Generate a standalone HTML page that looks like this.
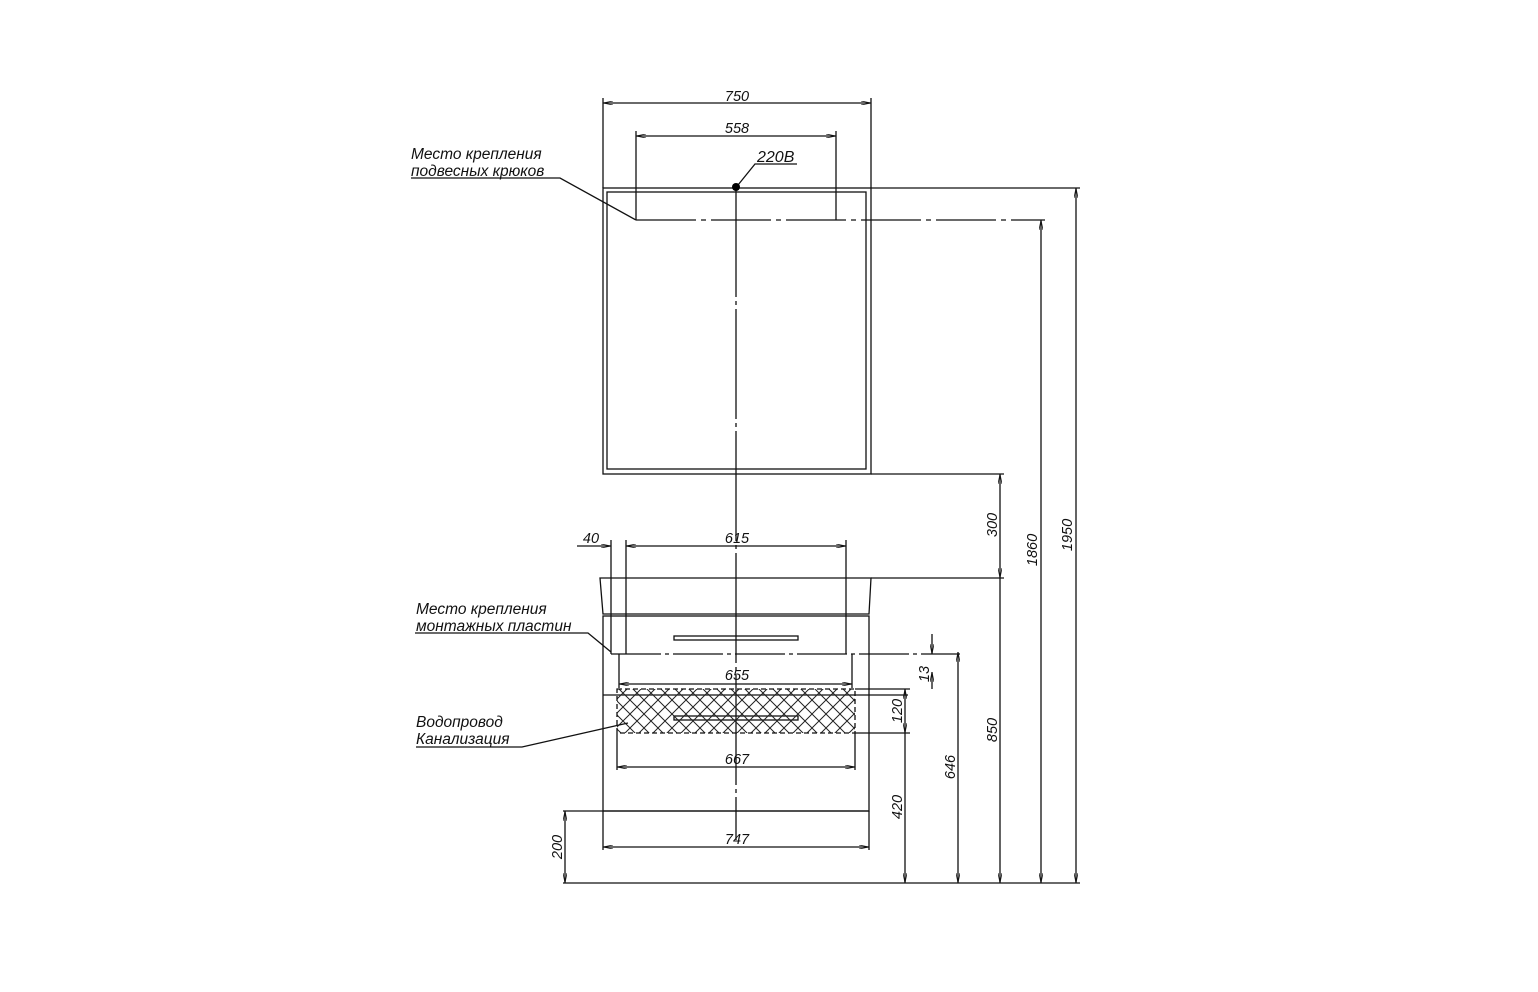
<!DOCTYPE html>
<html><head><meta charset="utf-8"><style>body{margin:0;background:#fff}svg{display:block}</style></head><body>
<svg width="1538" height="992" viewBox="0 0 1538 992" xmlns="http://www.w3.org/2000/svg" font-family="Liberation Sans, sans-serif" font-style="italic" font-size="14.5">
<defs>
<pattern id="h" width="14" height="14" patternUnits="userSpaceOnUse"><path d="M0 0L14 14M14 0L0 14" stroke="#222" stroke-width="1"/></pattern>
<marker id="a" viewBox="0 0 10 4" refX="10" refY="2" markerWidth="10" markerHeight="4" orient="auto-start-reverse" markerUnits="userSpaceOnUse"><path d="M0 0L10 2L0 4" fill="none" stroke="#111" stroke-width="0.8"/></marker>
</defs>
<g stroke="#111" stroke-width="1.3" fill="none">
<rect x="603" y="188" width="268" height="286"/>
<rect x="607" y="192" width="259" height="277"/>
<line x1="736" y1="187" x2="736" y2="840" stroke-dasharray="110 4 4 4"/>
<line x1="636" y1="220" x2="1045" y2="220" stroke-dasharray="60 5 5 5"/>
<line x1="603" y1="98" x2="603" y2="188"/><line x1="871" y1="98" x2="871" y2="188"/>
<line x1="603" y1="103" x2="871" y2="103" marker-start="url(#a)" marker-end="url(#a)"/>
<line x1="636" y1="131" x2="636" y2="220"/><line x1="836" y1="131" x2="836" y2="220"/>
<line x1="636" y1="136" x2="836" y2="136" marker-start="url(#a)" marker-end="url(#a)"/>
<polyline points="797,164 755,164 738,185"/>
<line x1="871" y1="188" x2="1080" y2="188"/>
<line x1="871" y1="474" x2="1004" y2="474"/>
<line x1="871" y1="578" x2="1004" y2="578"/>
<line x1="563" y1="883" x2="1080" y2="883"/>
<line x1="1076" y1="188" x2="1076" y2="883" marker-start="url(#a)" marker-end="url(#a)"/>
<line x1="1041" y1="220" x2="1041" y2="883" marker-start="url(#a)" marker-end="url(#a)"/>
<line x1="1000" y1="474" x2="1000" y2="578" marker-start="url(#a)" marker-end="url(#a)"/>
<line x1="1000" y1="578" x2="1000" y2="883" marker-end="url(#a)"/>
<line x1="958" y1="652" x2="958" y2="883" marker-start="url(#a)" marker-end="url(#a)"/>
<line x1="905" y1="689" x2="905" y2="733" marker-start="url(#a)" marker-end="url(#a)"/>
<line x1="905" y1="733" x2="905" y2="883" marker-end="url(#a)"/>
<line x1="932" y1="634" x2="932" y2="654" marker-end="url(#a)"/>
<line x1="932" y1="672" x2="932" y2="689" marker-start="url(#a)"/>
<line x1="565" y1="811" x2="565" y2="883" marker-start="url(#a)" marker-end="url(#a)"/>
<polygon points="600,578 871,578 869,614 603,614"/>
<rect x="603" y="616" width="266" height="195"/>
<line x1="563" y1="811" x2="869" y2="811"/>
<line x1="603" y1="811" x2="603" y2="850"/><line x1="869" y1="811" x2="869" y2="850"/>
<line x1="603" y1="847" x2="869" y2="847" marker-start="url(#a)" marker-end="url(#a)"/>
<rect x="674" y="636" width="124" height="4"/>
<rect x="674" y="716" width="124" height="4"/>
<line x1="603" y1="695" x2="908" y2="695"/>
<line x1="611" y1="654" x2="960" y2="654" stroke-dasharray="50 4 4 4"/>
<line x1="611" y1="540" x2="611" y2="654"/><line x1="626" y1="540" x2="626" y2="654"/><line x1="846" y1="540" x2="846" y2="654"/>
<line x1="626" y1="546" x2="846" y2="546" marker-start="url(#a)" marker-end="url(#a)"/>
<line x1="577" y1="546" x2="611" y2="546" marker-end="url(#a)"/>
<line x1="619" y1="654" x2="619" y2="688"/><line x1="852" y1="654" x2="852" y2="688"/>
<line x1="619" y1="684" x2="852" y2="684" marker-start="url(#a)" marker-end="url(#a)"/>
<rect x="617" y="689" width="238" height="44" fill="url(#h)" stroke-dasharray="5 3"/>
<line x1="855" y1="689" x2="910" y2="689"/><line x1="855" y1="733" x2="910" y2="733"/>
<line x1="617" y1="733" x2="617" y2="770"/><line x1="855" y1="733" x2="855" y2="770"/>
<line x1="617" y1="767" x2="855" y2="767" marker-start="url(#a)" marker-end="url(#a)"/>
<polyline points="411,178 560,178 636,220"/>
<polyline points="415,633 588,633 611,652"/>
<polyline points="416,747 522,747 628,723"/>
</g>
<circle cx="736" cy="187" r="4" fill="#000"/>
<g fill="#111">
<text x="737" y="101" text-anchor="middle">750</text>
<text x="737" y="133" text-anchor="middle">558</text>
<text x="757" y="162" font-size="16">220В</text>
<g font-size="15.5">
<text x="411" y="159">Место крепления</text>
<text x="411" y="176">подвесных крюков</text>
<text x="416" y="614">Место крепления</text>
<text x="416" y="631">монтажных пластин</text>
<text x="416" y="727">Водопровод</text>
<text x="416" y="744">Канализация</text>
</g>
<text x="591" y="543" text-anchor="middle">40</text>
<text x="737" y="543" text-anchor="middle">615</text>
<text x="737" y="680" text-anchor="middle">655</text>
<text x="737" y="764" text-anchor="middle">667</text>
<text x="737" y="844" text-anchor="middle">747</text>
<text transform="translate(1072,535) rotate(-90)" text-anchor="middle">1950</text>
<text transform="translate(1037,550) rotate(-90)" text-anchor="middle">1860</text>
<text transform="translate(997,525) rotate(-90)" text-anchor="middle">300</text>
<text transform="translate(997,730) rotate(-90)" text-anchor="middle">850</text>
<text transform="translate(955,767) rotate(-90)" text-anchor="middle">646</text>
<text transform="translate(902,807) rotate(-90)" text-anchor="middle">420</text>
<text transform="translate(902,711) rotate(-90)" text-anchor="middle">120</text>
<text transform="translate(929,674) rotate(-90)" text-anchor="middle">13</text>
<text transform="translate(562,847) rotate(-90)" text-anchor="middle">200</text>
</g>
</svg>
</body></html>
